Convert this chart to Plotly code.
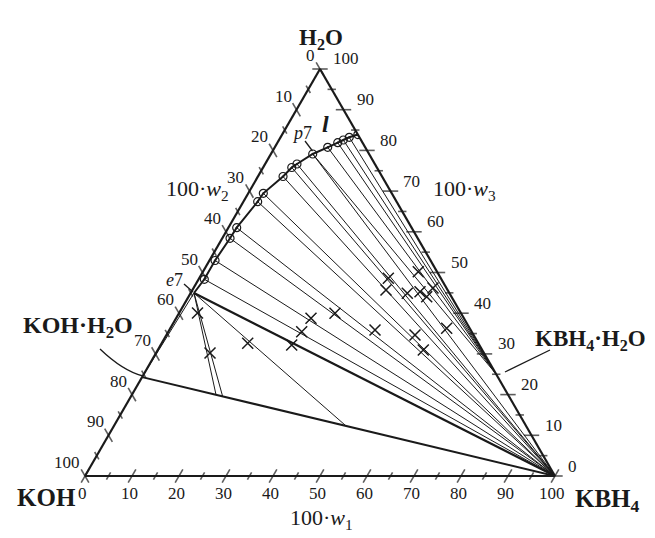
import plotly.graph_objects as go

# Compositions in mass %: a = H2O (100*w3), b = KOH (100*w2), c = KBH4 (100*w1)
liq_h2o  = [44.96, 48.33, 52.95, 58.40, 61.01, 67.40, 69.46, 73.59, 75.80, 76.66, 79.12, 80.76, 81.89, 82.56, 83.22, 83.90]
liq_kbh4 = [0.71, 1.22, 1.19, 1.66, 1.77, 3.04, 3.21, 5.34, 6.09, 6.77, 8.89, 11.26, 12.83, 13.68, 14.62, 16.10]
liq_koh  = [round(100 - h - k, 2) for h, k in zip(liq_h2o, liq_kbh4)]
# solid phase(s) in equilibrium with each liquid point
liq_solids = [["KOH·H2O", "KBH4"], ["KBH4"], ["KBH4"], ["KBH4"], ["KBH4"], ["KBH4"], ["KBH4"],
              ["KBH4"], ["KBH4"], ["KBH4"], ["KBH4", "KBH4·H2O"], ["KBH4·H2O"], ["KBH4·H2O"],
              ["KBH4·H2O"], ["KBH4·H2O"], ["KBH4·H2O"]]

# solid phases (H2O, KOH, KBH4)
solid_names = ["KOH·H2O", "KBH4·H2O", "KBH4"]
solid_h2o  = [24.3, 25.0, 0.0]
solid_koh  = [75.7, 0.0, 0.0]
solid_kbh4 = [0.0, 75.0, 100.0]

# eutectic e7: lines through wet residues to the KOH·H2O + KBH4 join (fraction of KBH4 in the solid mix)
e7_mix_frac = [0.179, 0.195, 0.494]

# wet residues (H2O, KOH, KBH4)
res_h2o  = [40.05, 30.22, 32.60, 32.19, 35.45, 38.75, 39.98, 35.87, 45.70, 48.57, 44.89, 45.28, 44.05, 50.20, 46.19, 36.29, 34.64, 30.96]
res_kbh4 = [3.91, 11.49, 18.32, 27.88, 28.38, 28.71, 33.20, 43.77, 41.19, 40.25, 46.13, 48.64, 50.68, 45.81, 50.95, 58.81, 52.89, 56.50]
res_koh  = [round(100 - h - k, 2) for h, k in zip(res_h2o, res_kbh4)]

# axis ticks (every 5 %, labels every 10 %)
tick_vals = list(range(0, 101, 5))
tick_labels = [str(v) for v in range(0, 101, 10)]

FONT = "Liberation Serif"
BLACK = "#1a1a1a"

# page layout (pixels); OFF compensates the 8 px page margin of the html body
W, H = 655, 538
OFF = 8
ML, MT = 85 - OFF, 69 - OFF
PW, PH = 470, 407
MR, MB = W - ML - PW, H - MT - PH


def P(px, py):
    """screen pixel -> paper coordinates"""
    return (px - OFF - ML) / PW, (H - MB - (py - OFF)) / PH


def T(a, b, c, dx=0, dy=0):
    """composition (+ pixel offset) -> paper coordinates (triangle fills the plot area)"""
    return c / 100 + a / 200 + dx / PW, a / 100 - dy / PH


solid = {n: (h, k, c) for n, h, k, c in zip(solid_names, solid_h2o, solid_koh, solid_kbh4)}

fig = go.Figure()

# tie lines
ta, tb, tc = [], [], []
for h, k, c, sols in zip(liq_h2o, liq_koh, liq_kbh4, liq_solids):
    for s in sols:
        sh, sk, sc = solid[s]
        ta += [h, sh, None]; tb += [k, sk, None]; tc += [c, sc, None]
fig.add_trace(go.Scatterternary(a=ta, b=tb, c=tc, mode="lines",
                                line=dict(color=BLACK, width=1), hoverinfo="skip"))

# e7 lines to the solid-mixture join
ea, eb, ec = [], [], []
h1, k1, c1 = solid["KOH·H2O"]
for t in e7_mix_frac:
    ea += [liq_h2o[0], h1 * (1 - t), None]
    eb += [liq_koh[0], k1 * (1 - t), None]
    ec += [liq_kbh4[0], 100 * t, None]
fig.add_trace(go.Scatterternary(a=ea, b=eb, c=ec, mode="lines",
                                line=dict(color=BLACK, width=1), hoverinfo="skip"))
# e7 to KBH4 (heavy)
fig.add_trace(go.Scatterternary(a=[liq_h2o[0], 0], b=[liq_koh[0], 0], c=[liq_kbh4[0], 100], mode="lines",
                                line=dict(color=BLACK, width=2.2), hoverinfo="skip"))

# join KOH·H2O – KBH4
fig.add_trace(go.Scatterternary(a=[h1, 0], b=[k1, 0], c=[c1, 100], mode="lines",
                                line=dict(color=BLACK, width=2), hoverinfo="skip"))

# liquidus curve
fig.add_trace(go.Scatterternary(a=liq_h2o, b=liq_koh, c=liq_kbh4, mode="lines",
                                line=dict(color=BLACK, width=2), hoverinfo="skip"))
fig.add_trace(go.Scatterternary(a=liq_h2o[1:], b=liq_koh[1:], c=liq_kbh4[1:], mode="markers",
                                marker=dict(symbol="circle-open-dot", size=8, color=BLACK,
                                            line=dict(width=1.2, color=BLACK)),
                                hoverinfo="skip"))

# wet residues
fig.add_trace(go.Scatterternary(a=res_h2o, b=res_koh, c=res_kbh4, mode="markers",
                                marker=dict(symbol="x-thin-open", size=11, color=BLACK,
                                            line=dict(width=1.5, color=BLACK)),
                                hoverinfo="skip"))

# edge tick crosses: left edge = KOH (w2), bottom = KBH4 (w1), right = H2O (w3)
edges = [
    dict(pt=lambda v: (100 - v, v, 0), angle=-30, off=(-3, -13.5), xa="right"),
    dict(pt=lambda v: (0, 100 - v, v), angle=30, off=(-3, 17.5), xa="center"),
    dict(pt=lambda v: (v, 0, 100 - v), angle=90, off=(11, -10), xa="left"),
]
for e in edges:
    pts = [e["pt"](v) for v in tick_vals]
    sizes = [11 if v % 10 == 0 else 6 for v in tick_vals]
    fig.add_trace(go.Scatterternary(
        a=[p[0] for p in pts], b=[p[1] for p in pts], c=[p[2] for p in pts], mode="markers",
        marker=dict(symbol="line-ns", size=sizes, angle=e["angle"], color=BLACK,
                    line=dict(width=1.6, color=BLACK)),
        cliponaxis=False, hoverinfo="skip"))
    for v, lab in zip(range(0, 101, 10), tick_labels):
        x, y = T(*e["pt"](v), *e["off"])
        fig.add_annotation(text=lab, x=x, y=y, xref="paper", yref="paper", showarrow=False,
                           xanchor=e["xa"], yanchor="middle",
                           font=dict(family=FONT, size=17, color=BLACK))

axis_common = dict(showticklabels=False, ticks="", linecolor=BLACK, linewidth=2.2,
                   showgrid=False, min=0, title=dict(text=""))

fig.update_layout(
    width=W, height=H,
    margin=dict(l=ML, r=MR, t=MT, b=MB),
    paper_bgcolor="white", plot_bgcolor="white",
    ternary=dict(sum=100, bgcolor="white",
                 domain=dict(x=[0, 1], y=[0, 1]),
                 aaxis=axis_common, baxis=axis_common, caxis=axis_common),
    showlegend=False,
)


def ann(text, px, py, size=24):
    x, y = P(px, py)
    fig.add_annotation(text=text, x=x, y=y, xref="paper", yref="paper", showarrow=False,
                       xanchor="center", yanchor="middle",
                       font=dict(family=FONT, size=size, color=BLACK))


ann("<b>H<sub>2</sub>O</b>", 321, 39, size=23)
ann("<b>KOH</b>", 46, 498, size=25)
ann("<b>KBH<sub>4</sub></b>", 607, 500, size=25)
ann("<b>KOH·H<sub>2</sub>O</b>", 78, 327, size=24)
ann("<b>KBH<sub>4</sub>·H<sub>2</sub>O</b>", 590, 340, size=23)
ann("100·<i>w</i><sub>2</sub>", 197, 190, size=22)
ann("100·<i>w</i><sub>3</sub>", 464, 190, size=22)
ann("100·<i>w</i><sub>1</sub>", 321, 519, size=22)
ann("<b><i>l</i></b>", 325, 124, size=24)
ann("<i>p</i>7", 302, 133, size=18)
ann("<i>e</i>7", 174, 280, size=18)


def leader(p0, p1):
    x0, y0 = P(*p0)
    x1, y1 = P(*p1)
    fig.add_shape(type="line", xref="paper", yref="paper", x0=x0, y0=y0, x1=x1, y1=y1,
                  line=dict(color=BLACK, width=1.3))


leader((305, 141), (312.5, 151))      # p7
leader((184, 284), (193, 292))        # e7
leader((550, 350), (505, 372))        # KBH4·H2O
# KOH·H2O (slightly curved)
(x0, y0), (xc, yc), (x1, y1) = P(100, 349), P(123, 371), P(143, 376)
fig.add_shape(type="path", xref="paper", yref="paper",
              path=f"M {x0},{y0} Q {xc},{yc} {x1},{y1}",
              line=dict(color=BLACK, width=1.3))

fig.write_html("out.html")
